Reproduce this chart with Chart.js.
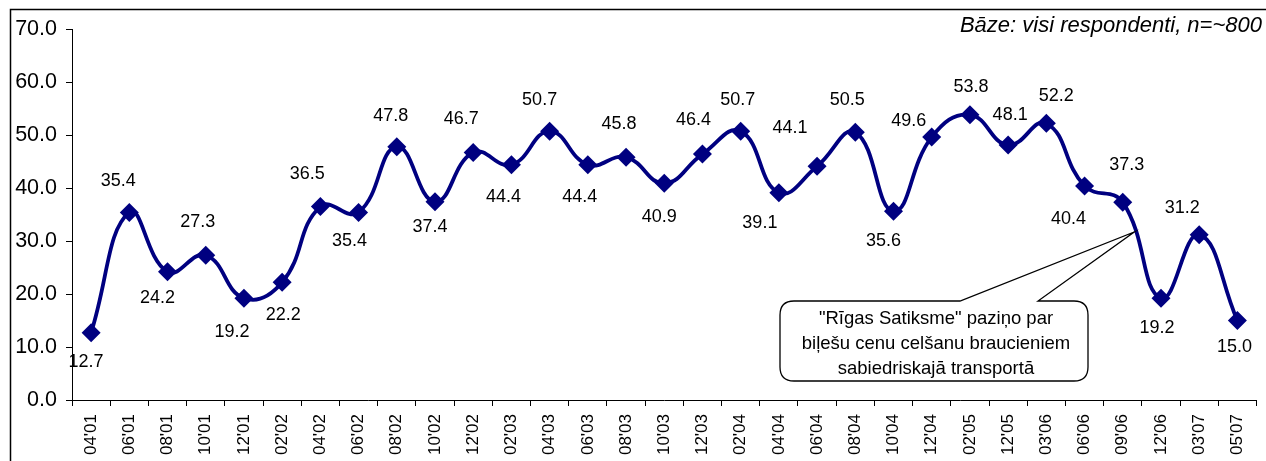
<!DOCTYPE html>
<html><head><meta charset="utf-8">
<script src="https://cdn.jsdelivr.net/npm/chart.js@4.4.0/dist/chart.umd.min.js"></script>
<style>
html,body{margin:0;padding:0;background:#fff;overflow:hidden}
#wrap{position:relative;width:1266px;height:461px}
canvas{display:block}
</style></head><body>
<div id="wrap"><canvas id="c" width="1266" height="461"></canvas></div>
<script>
const categories = ["04'01","06'01","08'01","10'01","12'01","02'02","04'02","06'02","08'02","10'02","12'02","02'03","04'03","06'03","08'03","10'03","12'03","02'04","04'04","06'04","08'04","10'04","12'04","02'05","12'05","03'06","06'06","09'06","12'06","03'07","05'07"];
const values = [12.7,35.4,24.2,27.3,19.2,22.2,36.5,35.4,47.8,37.4,46.7,44.4,50.7,44.4,45.8,40.9,46.4,50.7,39.1,44.1,50.5,35.6,49.6,53.8,48.1,52.2,40.4,37.3,19.2,31.2,15.0];
const yTickValues = [0,10,20,30,40,50,60,70];
const baseNote = "Bāze: visi respondenti, n=~800";
const calloutLines = ["\"Rīgas Satiksme\" paziņo par", "biļešu cenu celšanu braucieniem", "sabiedriskajā transportā"];
const calloutAnchor = {index: 27.3, value: 31.7};

const FONT = "'Liberation Sans', Arial, sans-serif";
const NAVY = '#000080';

// label offsets (dx, dy) relative to each point, styling only
const labelOffsets = [[-5,29],[-11,-31],[-10,26],[-8,-33],[-12,34],[1,33],[-13,-33],[-9,29],[-6,-31],[-5,25],
  [-12,-33],[-8,32],[-10,-31],[-8,32],[-7,-33],[-5,34],[-9,-34],[-3,-31],[-19,30],[-27,-38],
  [-8,-32],[-10,30],[-23,-16],[1,-28],[2,-30],[10,-27],[-16,33],[4,-37],[-4,30],[-17,-27],[-3,27]];

const decor = {
  id: 'decor',
  afterDatasetsDraw(chart) {
    const ctx = chart.ctx;
    const meta = chart.getDatasetMeta(0);
    ctx.save();
    ctx.font = "18px " + FONT;
    ctx.fillStyle = '#000';
    ctx.textAlign = 'center';
    ctx.textBaseline = 'middle';
    meta.data.forEach((pt, i) => {
      const o = labelOffsets[i] || [0, -30];
      ctx.fillText(values[i].toFixed(1), pt.x + o[0], pt.y + o[1]);
    });
    ctx.restore();
  },
  afterDraw(chart) {
    const ctx = chart.ctx;
    const xs = chart.scales.x, ys = chart.scales.y;
    ctx.save();
    // outer frame
    ctx.strokeStyle = '#000';
    ctx.lineWidth = 1.5;
    ctx.beginPath();
    ctx.moveTo(10.5, 470); ctx.lineTo(10.5, 9.5); ctx.lineTo(1270, 9.5);
    ctx.stroke();
    // base note
    ctx.font = "italic 22px " + FONT;
    ctx.fillStyle = '#000';
    ctx.textAlign = 'right';
    ctx.textBaseline = 'middle';
    ctx.fillText(baseNote, 1262, 26);
    // callout
    const tipX = xs.getPixelForValue(calloutAnchor.index);
    const tipY = ys.getPixelForValue(calloutAnchor.value);
    const L = 780, R = 1088, T = 301, B = 381, r = 14;
    const w1 = 960, w2 = 1038;
    ctx.beginPath();
    ctx.moveTo(L + r, T);
    ctx.lineTo(w1, T);
    ctx.lineTo(tipX, tipY);
    ctx.lineTo(w2, T);
    ctx.lineTo(R - r, T);
    ctx.quadraticCurveTo(R, T, R, T + r);
    ctx.lineTo(R, B - r);
    ctx.quadraticCurveTo(R, B, R - r, B);
    ctx.lineTo(L + r, B);
    ctx.quadraticCurveTo(L, B, L, B - r);
    ctx.lineTo(L, T + r);
    ctx.quadraticCurveTo(L, T, L + r, T);
    ctx.closePath();
    ctx.fillStyle = '#fff';
    ctx.fill();
    ctx.lineWidth = 1.3;
    ctx.strokeStyle = '#000';
    ctx.stroke();
    ctx.fillStyle = '#000';
    ctx.font = "18.5px " + FONT;
    ctx.textAlign = 'center';
    ctx.textBaseline = 'middle';
    calloutLines.forEach((t, i) => ctx.fillText(t, (L + R) / 2 + 2, 319 + i * 25));
    ctx.restore();
  }
};

new Chart(document.getElementById('c'), {
  type: 'line',
  data: {
    labels: categories,
    datasets: [{
      data: values,
      borderColor: NAVY,
      backgroundColor: NAVY,
      borderWidth: 3.8,
      tension: 0.45,
      pointStyle: 'rectRot',
      pointRadius: 9.5,
      pointHoverRadius: 9.5,
      pointBackgroundColor: NAVY,
      pointBorderColor: NAVY,
      pointBorderWidth: 0,
      fill: false,
      clip: false
    }]
  },
  options: {
    responsive: false,
    animation: false,
    events: [],
    layout: { padding: { left: 0, right: 8, top: 29, bottom: 0 } },
    plugins: { legend: { display: false }, tooltip: { enabled: false } },
    scales: {
      x: {
        type: 'category',
        offset: true,
        grid: { display: true, offset: true, drawOnChartArea: false, drawTicks: true, tickLength: 6, color: '#000', lineWidth: 1 },
        border: { display: true, color: '#000', width: 1 },
        ticks: { color: '#000', font: { family: FONT, size: 17 }, minRotation: 90, maxRotation: 90, autoSkip: false, padding: 8 },
        afterFit(s) { s.height = 61; }
      },
      y: {
        min: 0, max: 70,
        afterBuildTicks(s) { s.ticks = yTickValues.map(v => ({ value: v })); },
        grid: { display: true, drawOnChartArea: false, drawTicks: true, tickLength: 6, color: '#000', lineWidth: 1 },
        border: { display: true, color: '#000', width: 1 },
        ticks: { color: '#000', font: { family: FONT, size: 21.5 }, padding: 9, callback: v => Number(v).toFixed(1) },
        afterFit(s) { s.width = 72; }
      }
    }
  },
  plugins: [decor]
});
</script>
</body></html>
